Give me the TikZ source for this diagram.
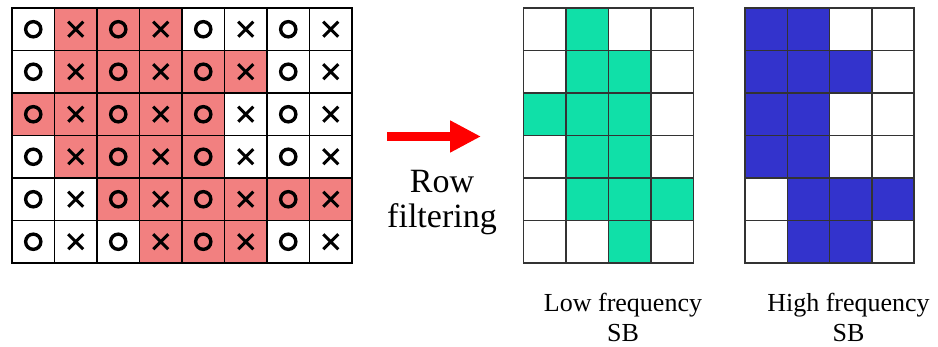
\documentclass[tikz,border=0pt]{standalone}
\usepackage{fontspec}
\setmainfont{Liberation Serif}
\usetikzlibrary{arrows.meta,positioning}
\definecolor{cellred}{RGB}{242,128,128}
\definecolor{cellgreen}{RGB}{16,224,168}
\definecolor{cellblue}{RGB}{51,51,204}
\tikzset{
  cel/.style={draw=black,line width=1.5pt},
  celg/.style={draw=black!80,line width=1.6pt},
  sym/.style={draw=black,line width=3.4pt},
  flt/.style={-{Triangle[length=31pt,width=30pt]},draw=red,line width=9pt},
  flab/.style={font=\fontsize{34}{34}\selectfont,inner sep=0pt},
  lb/.style={font=\fontsize{26}{30}\selectfont,inner sep=0pt},
}
\begin{document}
\begin{tikzpicture}[x=1pt,y=-1pt]
\useasboundingbox (0,0) rectangle (938,347);
% ============================= input block, 8 x 6 cells
\begin{scope}[shift={(12,8)}]
  \foreach \r/\cs in {1/{2,3,4},2/{2,3,4,5,6},3/{1,2,3,4,5},4/{2,3,4,5},5/{3,4,5,6,7,8},6/{4,5,6}}
    \foreach \c in \cs
      \fill[cellred] ({(\c-1)*42.5},{(\r-1)*42.5}) rectangle ({\c*42.5},{\r*42.5});
  \foreach \r in {1,...,6}
    \foreach \c in {1,...,8} {
      \draw[cel] ({(\c-1)*42.5},{(\r-1)*42.5}) rectangle ({\c*42.5},{\r*42.5});
      \ifodd\c
        \draw[sym] ({(\c-0.5)*42.5},{(\r-0.5)*42.5}) circle[radius=7.6];
      \else
        \draw[sym,line width=3pt] ({(\c-0.5)*42.5-7.5},{(\r-0.5)*42.5-7.5}) -- ++(15,15)
                                 ({(\c-0.5)*42.5-7.5},{(\r-0.5)*42.5+7.5}) -- ++(15,-15);
      \fi
    }
\end{scope}
% ============================= filtering step
\coordinate (flttail) at (387,136.5);
\coordinate (flttip) at (481,136.5);
\draw[flt] (flttail) -- (flttip);
\node[flab,anchor=base] (rowtxt) at (442,193) {Row};
\node[flab,anchor=base] (filtxt) at (442,228) {filtering};
% ============================= low frequency subband
\begin{scope}[shift={(523.5,8)}]
  \foreach \r/\cs in {1/{2},2/{2,3},3/{1,2,3},4/{2,3},5/{2,3,4},6/{3}}
    \foreach \c in \cs
      \fill[cellgreen] ({(\c-1)*42.5},{(\r-1)*42.5}) rectangle ({\c*42.5},{\r*42.5});
  \foreach \r in {1,...,6}
    \foreach \c in {1,...,4}
      \draw[celg] ({(\c-1)*42.5},{(\r-1)*42.5}) rectangle ({\c*42.5},{\r*42.5});
\end{scope}
\node[lb,anchor=base] (lowtxt) at (623,311.5) {Low frequency};
\node[lb,anchor=base] (lowsb) at (623,341.5) {SB};
% ============================= high frequency subband
\begin{scope}[shift={(745,8)}]
  \foreach \r/\cs in {1/{1,2},2/{1,2,3},3/{1,2},4/{1,2},5/{2,3,4},6/{2,3}}
    \foreach \c in \cs
      \fill[cellblue] ({(\c-1)*42.3},{(\r-1)*42.5}) rectangle ({\c*42.3},{\r*42.5});
  \foreach \r in {1,...,6}
    \foreach \c in {1,...,4}
      \draw[celg] ({(\c-1)*42.3},{(\r-1)*42.5}) rectangle ({\c*42.3},{\r*42.5});
\end{scope}
\node[lb,anchor=base] (hightxt) at (848.5,311.5) {High frequency};
\node[lb,anchor=base] (highsb) at (848.5,341.5) {SB};
\end{tikzpicture}
\end{document}
